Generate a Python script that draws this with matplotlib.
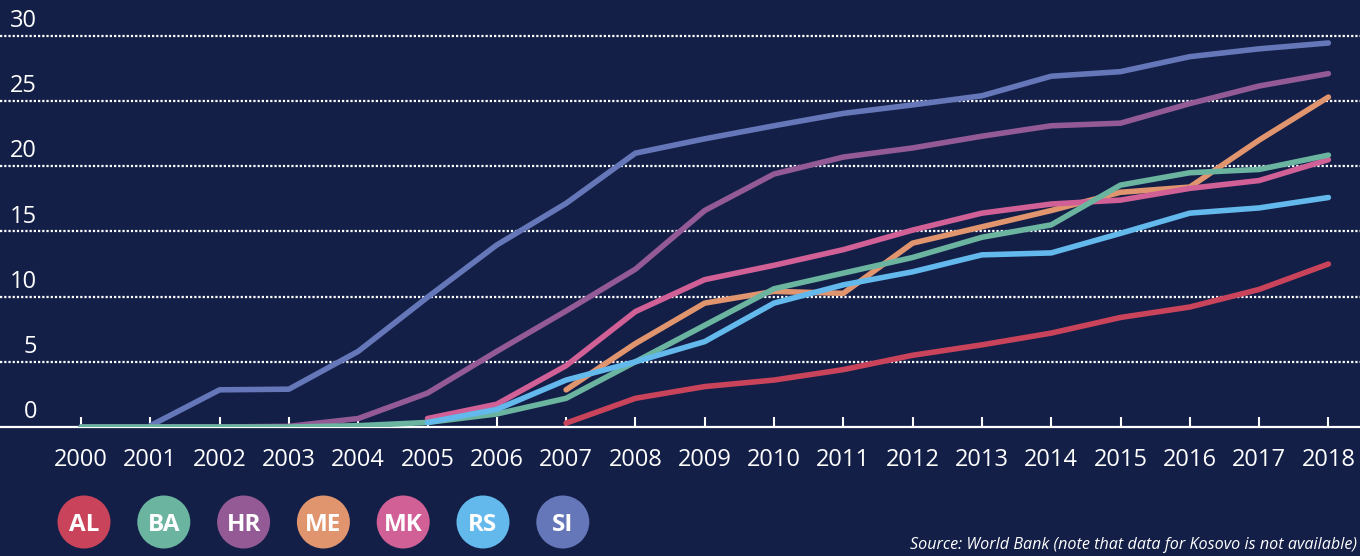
import matplotlib
matplotlib.use("Agg")
import matplotlib.pyplot as plt
from matplotlib.patches import Ellipse
import numpy as np

years = list(range(2000, 2019))

# values (None = no data)
AL = [None]*7 + [0.3, 2.2, 3.1, 3.6, 4.4, 5.5, 6.3, 7.2, 8.4, 9.2, 10.55, 12.5]
BA = [0.0, 0.0, 0.0, 0.0, 0.1, 0.35, 1.0, 2.2, 5.0, 7.8, 10.6, 11.8, 13.0, 14.55, 15.5, 18.55, 19.5, 19.75, 20.85]
HR = [0.0, 0.0, 0.0, 0.05, 0.65, 2.6, 5.8, 8.9, 12.1, 16.6, 19.4, 20.7, 21.4, 22.3, 23.1, 23.3, 24.8, 26.15, 27.1]
ME = [None]*7 + [2.85, 6.4, 9.5, 10.4, 10.25, 14.1, 15.35, 16.6, 18.0, 18.4, 22.0, 25.3]
MK = [None]*5 + [0.65, 1.75, 4.7, 8.85, 11.3, 12.4, 13.6, 15.1, 16.4, 17.1, 17.4, 18.3, 18.9, 20.5]
RS = [None]*5 + [0.35, 1.35, 3.6, 5.0, 6.55, 9.5, 10.9, 11.9, 13.2, 13.35, 14.85, 16.4, 16.8, 17.6]
SI = [None, 0.1, 2.85, 2.9, 5.8, 9.95, 13.96, 17.15, 21.0, 22.1, 23.1, 24.05, 24.7, 25.4, 26.9, 27.25, 28.4, 29.0, 29.45]

codes = ["AL", "BA", "HR", "ME", "MK", "RS", "SI"]
series = {"AL": AL, "BA": BA, "HR": HR, "ME": ME, "MK": MK, "RS": RS, "SI": SI}
colors = {"AL": "#c9435a", "BA": "#6ab4a0", "HR": "#935a96", "ME": "#e0956f",
          "MK": "#d06096", "RS": "#63b8ec", "SI": "#6577b9"}
draw_order = ["SI", "HR", "AL", "ME", "MK", "BA", "RS"]

yticks = [0, 5, 10, 15, 20, 25, 30]
source = "Source: World Bank (note that data for Kosovo is not available)"

BG = "#131f47"
W, H, DPI = 1360, 556, 100
plt.rcParams['font.family'] = ['Open Sans', 'DejaVu Sans']

fig = plt.figure(figsize=(W/DPI, H/DPI), dpi=DPI, facecolor=BG)
base_px = 427
ax = fig.add_axes([0, (H - base_px)/H, 1, base_px/H])
ax.set_facecolor(BG)

px_per_year = 69.3
x_left = 2000 - 81/px_per_year
x_right = x_left + W/px_per_year
ax.set_xlim(x_left, x_right)
px_per_unit = 13.04
ax.set_ylim(0, base_px/px_per_unit)

for s in ["top", "right", "left"]:
    ax.spines[s].set_visible(False)
ax.spines["bottom"].set_color("white")
ax.spines["bottom"].set_linewidth(1.6)
ax.spines["bottom"].set_zorder(2)

for v in yticks[1:]:
    ax.axhline(v, color="white", linewidth=1.6, linestyle=(0, (1, 0.9)), zorder=1)

for c in draw_order:
    vals = np.array([np.nan if v is None else v for v in series[c]], dtype=float)
    ax.plot(years, vals, color=colors[c], linewidth=4.0, solid_capstyle="round",
            solid_joinstyle="round", zorder=3)

ax.set_xticks(years)
ax.set_xticklabels([str(y) for y in years], fontsize=17, color="white")
ax.tick_params(axis="x", direction="in", length=7.5, width=1.5, color="white", pad=15)
ax.set_yticks([])

for v in yticks:
    ax.annotate(str(v), xy=(0, v), xycoords=("axes fraction", "data"),
                xytext=(26.8, 6.3), textcoords="offset points",
                ha="right", va="baseline", fontsize=17, color="white")

# legend circles
cx0, dx, cy, d = 84, 79.8, 34, 53
for i, c in enumerate(codes):
    cx = cx0 + i*dx
    fig.add_artist(Ellipse((cx/W, cy/H), d/W, d/H, transform=fig.transFigure,
                           facecolor=colors[c], edgecolor="none"))
    fig.text(cx/W, cy/H, c, ha="center", va="center_baseline", fontsize=17.5,
             fontweight="bold", color="white")

fig.text(1357/W, 3/H, source, ha="right", va="bottom", fontsize=11.6,
         style="italic", color="white")

fig.savefig("out.png", dpi=DPI, facecolor=BG)
